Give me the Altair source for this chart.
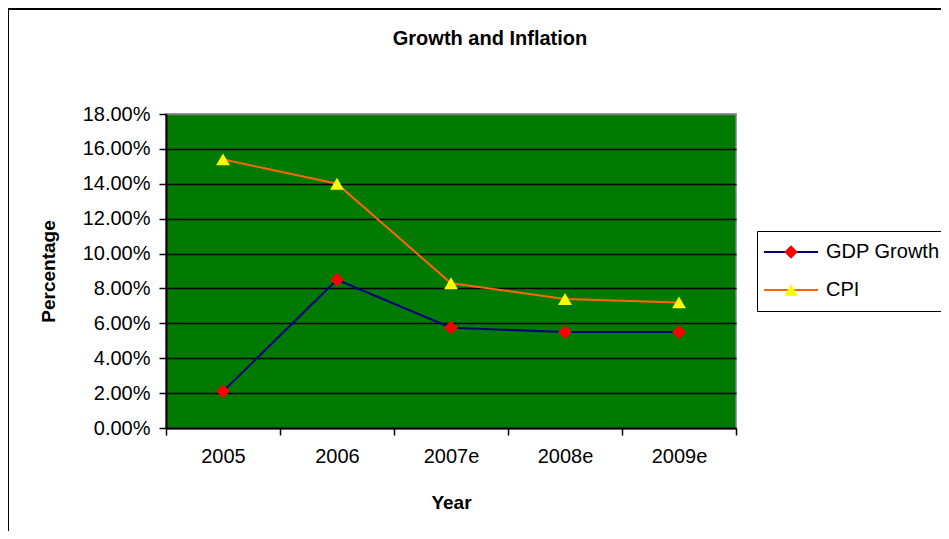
import altair as alt
import pandas as pd

years = ["2005", "2006", "2007e", "2008e", "2009e"]
gdp_growth = [0.021, 0.085, 0.0575, 0.055, 0.055]
cpi = [0.154, 0.140, 0.083, 0.074, 0.072]
series_names = ["GDP Growth", "CPI"]
y_ticks = [0.0, 0.02, 0.04, 0.06, 0.08, 0.10, 0.12, 0.14, 0.16, 0.18]

rows = []
for i, yr in enumerate(years):
    rows.append({"Year": yr, "series": "GDP Growth", "value": gdp_growth[i]})
    rows.append({"Year": yr, "series": "CPI", "value": cpi[i]})
df = pd.DataFrame(rows)

FONT = "Liberation Sans"

x_enc = alt.X(
    "Year:N",
    sort=years,
    scale=alt.Scale(type="band", paddingInner=0, paddingOuter=0),
    axis=alt.Axis(
        title="Year", tickBand="extent", labelAngle=0, grid=False,
        labelFont=FONT, labelFontSize=20, labelColor="black", labelPadding=11,
        tickColor="black", tickSize=7, tickWidth=1.5,
        domainColor="black", domainWidth=2,
        titleFont=FONT, titleFontSize=19, titleFontWeight="bold", titleColor="black",
        titleBaseline="alphabetic", titleY=80,
    ),
)
y_enc = alt.Y(
    "value:Q",
    scale=alt.Scale(domain=[0, 0.18], nice=False, zero=True),
    axis=alt.Axis(
        values=y_ticks, format=".2%", title="Percentage",
        labelFont=FONT, labelFontSize=20, labelColor="black", labelPadding=9,
        tickColor="black", tickSize=7, tickWidth=1.5,
        domainColor="black", domainWidth=2,
        grid=True, gridWidth=1.5,
        gridColor={"condition": {"test": "datum.value >= 0.179", "value": "#808080"}, "value": "black"},
        titleFont=FONT, titleFontSize=19, titleFontWeight="bold", titleColor="black",
        titleX=-118, titleY=157, titleBaseline="middle", titleAlign="center", titleAngle=270,
    ),
)

base = alt.Chart(df)

lines = base.mark_line(strokeWidth=2).encode(
    x=x_enc,
    y=y_enc,
    stroke=alt.Stroke(
        "series:N",
        scale=alt.Scale(domain=series_names, range=["#000080", "#FF6600"]),
        legend=alt.Legend(
            title=None, orient="none", legendX=591, legendY=117,
            strokeColor="black", fillColor="white", padding=11,
            symbolType="M-4.5,0L4.5,0", symbolSize=144, symbolStrokeWidth=2,
            symbolOffset=13, labelOffset=25, rowPadding=18,
            labelFont=FONT, labelFontSize=20, labelColor="black", zindex=0,
        ),
    ),
)

points = base.transform_calculate(series_m="datum.series + ' '").mark_point(
    filled=True, size=190, opacity=1, strokeWidth=0
).encode(
    x=x_enc,
    y=y_enc,
    fill=alt.Fill(
        "series_m:N",
        scale=alt.Scale(domain=[s + " " for s in series_names], range=["#FF0000", "#FFFF00"]),
        legend=alt.Legend(
            title=None, orient="none", legendX=591, legendY=117, padding=11,
            symbolSize=180, symbolStrokeWidth=0, symbolOffset=13,
            labelOffset=25, rowPadding=18, labelOpacity=0,
            labelFont=FONT, labelFontSize=20, zindex=1,
        ),
    ),
    shape=alt.Shape(
        "series_m:N",
        scale=alt.Scale(domain=[s + " " for s in series_names], range=["diamond", "triangle-up"]),
    ),
)

frame = alt.Chart(pd.DataFrame({"f": [0]})).mark_rect(
    fillOpacity=0, stroke="black", strokeWidth=2
).encode(
    x=alt.value(-158), x2=alt.value(790), y=alt.value(-105), y2=alt.value(430)
)

chart = alt.layer(frame, lines, points).properties(
    width=570,
    height=314,
    autosize="none",
    padding={"left": 158, "top": 106, "right": 205, "bottom": 103},
    title=alt.TitleParams(
        "Growth and Inflation", font=FONT, fontSize=20, fontWeight="bold",
        color="black", anchor="middle", frame="group", dx=39, offset=-61, baseline="bottom",
    ),
    background="white",
).configure_view(
    fill="#007A00", stroke="#808080", strokeWidth=1.5
)

chart.save("out.html", embed_options={"renderer": "svg", "actions": False})
